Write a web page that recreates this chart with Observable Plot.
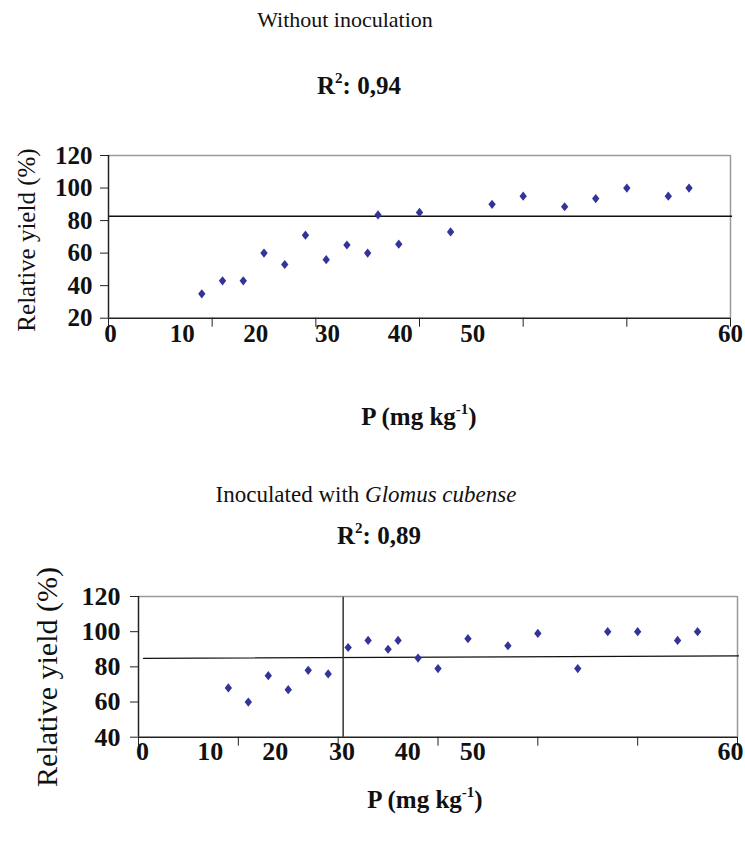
<!DOCTYPE html>
<html>
<head>
<meta charset="utf-8">
<script src="https://cdn.jsdelivr.net/npm/d3@7"></script>
<script src="https://cdn.jsdelivr.net/npm/@observablehq/plot@0.6"></script>
<style>
  html, body { margin: 0; padding: 0; background: #fff; overflow: hidden; }
  #page { position: relative; width: 745px; height: 843px; font-family: "Liberation Serif", "Times New Roman", serif; color: #111; }
  .txt { position: absolute; white-space: nowrap; line-height: 1; font-family: "Liberation Serif", "Times New Roman", serif; color: #111; }
  .txt sup { font-size: 0.6em; line-height: 0; vertical-align: 0.75em; }
  .plotbox { position: absolute; left: 0; }
  .plotbox svg { overflow: visible; }
</style>
</head>
<body>
<div id="page"></div>
<script>
// ---------------- data ----------------
const pValues = [9, 11, 13, 15, 17, 19, 21, 23, 25, 26, 28, 30, 33, 37, 40, 44, 47, 50, 54, 56];
const yieldWithout = [35, 43, 43, 60, 53, 71, 56, 65, 60, 83.5, 65.5, 85, 73, 90, 95, 88.5, 93.5, 100, 95, 100];
const yieldInoculated = [68, 60, 75, 67, 78, 76, 91, 95, 90, 95, 85, 79, 96, 92, 99, 79, 100, 100, 95, 100];

const xTicks = [0, 10, 20, 30, 40, 50, 60];
const yTicksWithout = [20, 40, 60, 80, 100, 120];
const yTicksInoculated = [40, 60, 80, 100, 120];

const plateauWithout = 82.7;               // horizontal reference line, top chart
const plateauInocX = [0.5, 60.1];          // reference line, bottom chart
const plateauInocY = [84.8, 86.2];
const criticalPInoc = 20.5;                // vertical reference line, bottom chart

// ---------------- layout (label offsets as printed in the source figure) ----------------
const xLabelShiftTop = [2, -30, -60, -92, -123, -154, 0];
const xLabelShiftBottom = [4, -28, -63, -96, -130, -165, -7];

// ---------------- helpers ----------------
const page = document.getElementById("page");
const FONT = '"Liberation Serif", "Times New Roman", serif';
const NAVY = "#333399";

const tallDiamond = {
  draw(ctx, size) {
    const r = Math.sqrt(size / Math.PI);
    const w = r * 0.8;
    ctx.moveTo(0, -r); ctx.lineTo(w, 0); ctx.lineTo(0, r); ctx.lineTo(-w, 0); ctx.closePath();
  }
};

function place(html, cx, baseline, size, weight = "normal", rotate = false) {
  const d = document.createElement("div");
  d.className = "txt";
  d.innerHTML = html;
  d.style.fontSize = size + "px";
  d.style.fontWeight = weight;
  page.appendChild(d);
  d.style.left = cx + "px";
  if (!rotate) {
    d.style.top = (baseline - 0.8375 * size) + "px";
    d.style.transform = "translateX(-50%)";
  } else {
    d.style.top = baseline + "px";
    d.style.transform = "translate(-50%, -50%) rotate(-90deg)";
  }
  return d;
}

function makeChart({yValues, yDomain, yTicks, shifts, xPad, yPad, tickFont, top, height, mt, mb, ml, mr, extraMarks}) {
  const data = pValues.map((p, i) => ({p, y: yValues[i]}));
  const textOpts = {fontSize: tickFont, fontWeight: "bold", fontFamily: FONT};
  const chart = Plot.plot({
    width: 745,
    height,
    marginTop: mt,
    marginBottom: mb,
    marginLeft: ml,
    marginRight: mr,
    x: {domain: [0, 60]},
    y: {domain: yDomain},
    style: {fontFamily: FONT, fontSize: tickFont + "px", fontWeight: "bold", color: "#111", background: "transparent"},
    marks: [
      Plot.ruleY([yDomain[1]], {stroke: "#9a9a9a", strokeWidth: 1.5}),
      Plot.ruleX([60], {stroke: "#9a9a9a", strokeWidth: 1.5}),
      ...extraMarks,
      // tick marks
      Plot.axisX(xTicks, {tickSize: 9, tickFormat: () => "", label: null, stroke: "#222"}),
      // tick labels, each offset as in the printed figure
      ...xTicks.map((v, i) => Plot.axisX([v], {tickSize: 0, tickPadding: xPad, dx: shifts[i], label: null, ...textOpts})),
      Plot.axisY(yTicks, {tickSize: 8, tickPadding: yPad, label: null, stroke: "#222", ...textOpts}),
      Plot.ruleX([0], {stroke: "#222", strokeWidth: 1.5}),
      Plot.ruleY([yDomain[0]], {stroke: "#222", strokeWidth: 1.5}),
      Plot.dot(data, {x: "p", y: "y", symbol: tallDiamond, r: 4.6, fill: NAVY, stroke: "none"})
    ]
  });
  const box = document.createElement("div");
  box.className = "plotbox";
  box.style.top = top + "px";
  box.appendChild(chart);
  page.appendChild(box);
}

// ---------------- top chart ----------------
place("Without inoculation", 345, 27, 22);
place("R<sup>2</sup>: 0,94", 359, 94, 25, "bold");

makeChart({
  yValues: yieldWithout, yDomain: [20, 120], yTicks: yTicksWithout, shifts: xLabelShiftTop,
  xPad: 6, yPad: 8, tickFont: 25,
  top: 130, height: 250, mt: 25, mb: 62.3, ml: 108, mr: 15,
  extraMarks: [
    Plot.ruleY([plateauWithout], {x1: 0, x2: 60.2, stroke: "#111", strokeWidth: 1.5})
  ]
});
place("Relative yield (%)", 26, 240, 25, "normal", true);
place("P (mg kg<sup>-1</sup>)", 419, 425, 25, "bold");

// ---------------- bottom chart ----------------
place("Inoculated with <i>Glomus cubense</i>", 366, 502, 23);
place("R<sup>2</sup>: 0,89", 379, 544, 25, "bold");

makeChart({
  yValues: yieldInoculated, yDomain: [40, 120], yTicks: yTicksInoculated, shifts: xLabelShiftBottom,
  xPad: 4, yPad: 10, tickFont: 26,
  top: 570, height: 240, mt: 26, mb: 73.3, ml: 138, mr: 8,
  extraMarks: [
    Plot.line(plateauInocX.map((x, i) => ({x, y: plateauInocY[i]})), {x: "x", y: "y", stroke: "#111", strokeWidth: 1.3}),
    Plot.ruleX([criticalPInoc], {y1: 40, y2: 119.6, stroke: "#333", strokeWidth: 1.5})
  ]
});
place("Relative yield (%)", 47, 677, 30, "normal", true);
place("P (mg kg<sup>-1</sup>)", 425, 808, 25, "bold");
</script>
</body>
</html>
